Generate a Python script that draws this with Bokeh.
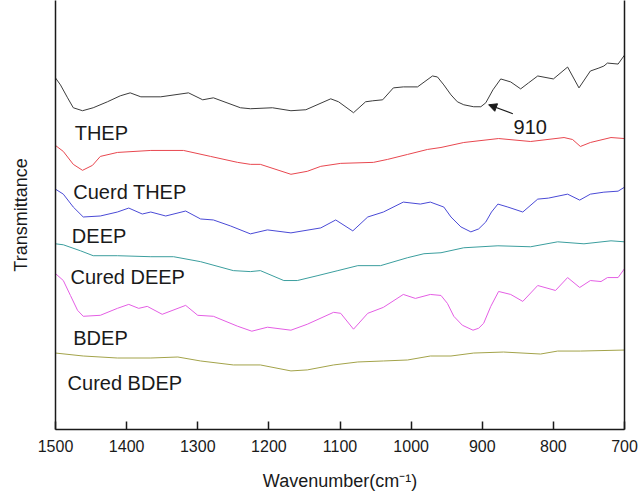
from bokeh.plotting import figure
from bokeh.models import Range1d, LinearAxis, FixedTicker, Label, Arrow, NormalHead
from bokeh.embed import file_html
from bokeh.resources import INLINE

# ---- data (wavenumber in cm^-1, transmittance in arbitrary offset units) ----
thep_w = [1500,1493,1483,1475,1462,1447,1427,1409,1395,1380,1352,1313,1293,1278,1240,1226,1195,1169,1148,1113,1102,1081,1064,1054,1040,1025,1011,991,970,963,954,944,935,926,912,902,895,885,874,860,846,835,822,800,780,764,748,736,729,724,709,700]
thep_t = [354,347,334,324,321,324,330,336,339,335,335,339,332,334,324,323,324,321,322,333,330,319,330,331,332,344,345,345,356,355,347,337,330,327,325,325,329,342,353,350,343,349,356,353,365,344,361,364,366,369,368,377]

cthep_w = [1500,1489,1475,1462,1448,1437,1413,1366,1320,1282,1244,1226,1212,1169,1146,1127,1099,1053,1033,1005,977,958,926,877,832,785,773,762,748,719,700]
cthep_t = [286,280,267,261,266,275,279,281,281,275,269,267,267,257,260,265,268,269,272,277,282,284,289,293,290,294,292,285,289,294,293]

deep_w = [1500,1489,1475,1461,1437,1413,1397,1378,1366,1345,1317,1296,1278,1254,1226,1202,1169,1127,1106,1082,1061,1039,1011,987,973,954,944,930,916,905,895,887,878,864,843,822,807,780,763,748,729,709,700]
deep_t = [242,237,224,214,215,219,223,217,219,215,220,212,211,205,197,201,198,203,211,200,214,219,229,227,229,224,214,204,199,202,209,219,227,224,219,232,233,237,231,237,239,240,244]

cdeep_w = [1500,1489,1465,1447,1413,1366,1334,1296,1250,1226,1212,1179,1160,1131,1103,1075,1043,1005,982,958,926,878,832,794,757,719,700]
cdeep_t = [187,186,180,175,175,174,174,169,160,159,160,150,150,155,160,165,165,173,177,178,183,185,184,189,187,190,189]

bdep_w = [1500,1489,1479,1469,1461,1437,1413,1397,1383,1371,1350,1317,1300,1278,1244,1224,1202,1169,1146,1109,1099,1081,1061,1039,1011,994,973,958,949,940,928,913,905,898,888,877,860,843,822,797,780,763,748,733,724,709,700]
bdep_t = [157,150,135,120,114,115,122,126,122,124,116,125,115,114,104,99,103,100,106,118,117,101,117,123,136,132,136,135,127,114,105,100,102,107,124,139,136,129,145,140,153,143,150,149,153,153,162]

cbdep_w = [1500,1461,1413,1366,1328,1296,1250,1212,1169,1146,1109,1075,1039,1005,973,944,912,870,818,794,762,700]
cbdep_t = [77,74,72,72,73,69,65,65,59,60,65,68,69,70,74,74,77,78,76,79,79,80]

series_names = ["THEP", "Cuerd THEP", "DEEP", "Cured DEEP", "BDEP", "Cured BDEP"]
x_ticks = [1500, 1400, 1300, 1200, 1100, 1000, 900, 800, 700]
peak_label = "910"

FONT = "Liberation Sans"
INK = "#1a1a1a"

p = figure(width=640, height=493, output_backend="svg", toolbar_location=None,
           x_range=Range1d(1500, 700), y_range=Range1d(0, 432),
           x_axis_location=None, y_axis_location=None,
           min_border_left=55, min_border_right=16, min_border_top=0, min_border_bottom=61)
p.outline_line_color = None
p.grid.visible = False
p.background_fill_color = "white"
p.border_fill_color = "white"

colors = ["#3c3c3c", "#e8474f", "#4a4ad6", "#3b9e9e", "#e45ee4", "#a3a34a"]
data = [(thep_w, thep_t), (cthep_w, cthep_t), (deep_w, deep_t),
        (cdeep_w, cdeep_t), (bdep_w, bdep_t), (cbdep_w, cbdep_t)]
for (w, t), c in zip(data, colors):
    p.line(w, t, line_color=c, line_width=1.0, line_join="round")

# bottom axis
xa = LinearAxis(ticker=FixedTicker(ticks=x_ticks), axis_label="Wavenumber(cm\u207b\u00b9)")
xa.major_tick_in = 8
xa.major_tick_out = 0
xa.minor_tick_line_color = None
xa.axis_line_width = 1.5
xa.axis_line_color = INK
xa.major_tick_line_color = INK
xa.major_tick_line_width = 1.5
xa.major_label_standoff = 10
xa.major_label_text_font = FONT
xa.major_label_text_font_size = "16px"
xa.major_label_text_color = INK
xa.axis_label_text_font = FONT
xa.axis_label_text_font_size = "18px"
xa.axis_label_text_font_style = "normal"
xa.axis_label_text_color = INK
xa.axis_label_standoff = 16
p.add_layout(xa, "below")

# left axis (no ticks)
ya = LinearAxis(ticker=FixedTicker(ticks=[]), axis_label="Transmittance")
ya.major_tick_line_color = None
ya.minor_tick_line_color = None
ya.major_label_text_font_size = "0px"
ya.axis_line_width = 1.5
ya.axis_line_color = INK
ya.axis_label_text_font = FONT
ya.axis_label_text_font_size = "18px"
ya.axis_label_text_font_style = "normal"
ya.axis_label_text_color = INK
ya.axis_label_standoff = 25
p.add_layout(ya, "left")

# right axis line
ra = LinearAxis(ticker=FixedTicker(ticks=[]))
ra.major_tick_line_color = None
ra.minor_tick_line_color = None
ra.major_label_text_font_size = "0px"
ra.axis_line_width = 1.5
ra.axis_line_color = INK
p.add_layout(ra, "right")

# series labels
label_pos = [(1473, 299), (1475, 239), (1477, 195), (1479, 154), (1475, 92), (1483, 47)]
for name, (lx, ly) in zip(series_names, label_pos):
    p.add_layout(Label(x=lx, y=ly, text=name, text_font=FONT, text_font_size="20px",
                       text_color=INK, text_baseline="alphabetic", text_align="left"))

p.add_layout(Label(x=856, y=305, text=peak_label, text_font=FONT, text_font_size="20px",
                   text_color=INK, text_baseline="alphabetic", text_align="left"))
p.add_layout(Arrow(x_start=857, y_start=318, x_end=891, y_end=327, line_color=INK, line_width=1.2,
                   end=NormalHead(size=8, fill_color=INK, line_color=INK)))

open("out.html", "w").write(file_html(p, INLINE))
